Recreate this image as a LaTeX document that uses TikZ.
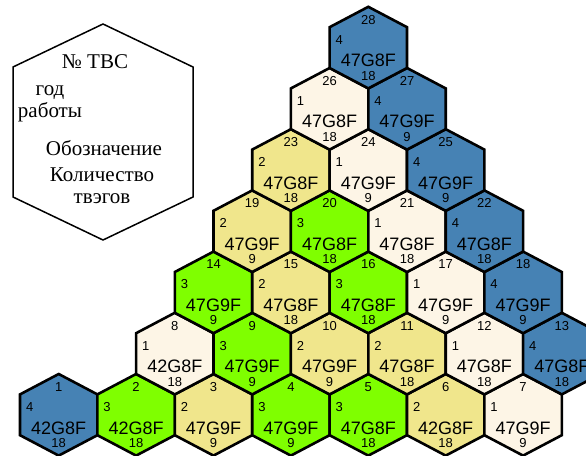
\documentclass[tikz,border=0pt]{standalone}
\usepackage{fontspec}
\setmainfont{Liberation Serif}
\setsansfont{Liberation Sans}
\usetikzlibrary{calc}

\definecolor{cls1}{HTML}{FDF5E6}
\definecolor{cls2}{HTML}{F0E68C}
\definecolor{cls3}{HTML}{7FFF00}
\definecolor{cls4}{HTML}{4682B4}

\begin{document}
\begin{tikzpicture}[
    x=1pt, y=-1pt,
    hexcell/.style={
        draw=black,
        line width=2.6pt,
        line join=miter
    },
    legendhex/.style={
        draw=black,
        line width=1.5pt
    },
    num/.style={
        font=\sffamily\fontsize{13}{13}\selectfont,
        inner sep=0pt
    },
    fuel/.style={
        font=\sffamily\fontsize{18}{18}\selectfont,
        inner sep=0pt
    },
    legend/.style={
        font=\fontsize{21}{22}\selectfont,
        align=center,
        inner sep=0pt
    }
]
\useasboundingbox (0,0) rectangle (586,455);
\clip (0,0) rectangle (586,455);

% Legend
\draw [legendhex] (13,67) -- (103,24) -- (193,67) -- (193,197) -- (103,240) -- (13,197) -- cycle;
\node (ntvs) [legend] at (95,62) {№ ТВС};
\node (year) [legend] at (50,104) {год\\работы};
\node (mark) [legend] at (104,148) {Обозначение};
\node (qty) [legend] at (102,186) {Количество\\твэгов};

% Cells: number / column / row / class / designation / count
\foreach \n/\p/\row/\k/\code/\cnt in {
    1/0/0/4/42G8F/18, 2/2/0/3/42G8F/18, 3/4/0/2/47G9F/9, 4/6/0/3/47G9F/9,
    5/8/0/3/47G8F/18, 6/10/0/2/42G8F/18, 7/12/0/1/47G9F/9,
    8/3/1/1/42G8F/18, 9/5/1/3/47G9F/9, 10/7/1/2/47G9F/9, 11/9/1/2/47G8F/18,
    12/11/1/1/47G8F/18, 13/13/1/4/47G8F/18,
    14/4/2/3/47G9F/9, 15/6/2/2/47G8F/18, 16/8/2/3/47G8F/18, 17/10/2/1/47G9F/9,
    18/12/2/4/47G9F/9,
    19/5/3/2/47G9F/9, 20/7/3/3/47G8F/18, 21/9/3/1/47G8F/18, 22/11/3/4/47G8F/18,
    23/6/4/2/47G8F/18, 24/8/4/1/47G9F/9, 25/10/4/4/47G9F/9,
    26/7/5/1/47G8F/18, 27/9/5/4/47G9F/9,
    28/8/6/4/47G8F/18}{
    \coordinate (c\n) at ({58.7+38.7*\p},{414.8-61.2*\row});
    \draw [hexcell, fill=cls\k] ($(c\n)+(0,-40.8)$) -- ++(38.7,20.4) -- ++(0,40.8)
        -- ++(-38.7,20.4) -- ++(-38.7,-20.4) -- ++(0,-40.8) -- cycle;
    \node (n\n) [num] at ($(c\n)+(0,-28)$) {\n};
    \node (k\n) [num] at ($(c\n)+(-29,-8)$) {\k};
    \node (d\n) [fuel] at ($(c\n)+(0,13)$) {\code};
    \node (q\n) [num] at ($(c\n)+(0,28)$) {\cnt};
}

\end{tikzpicture}
\end{document}
